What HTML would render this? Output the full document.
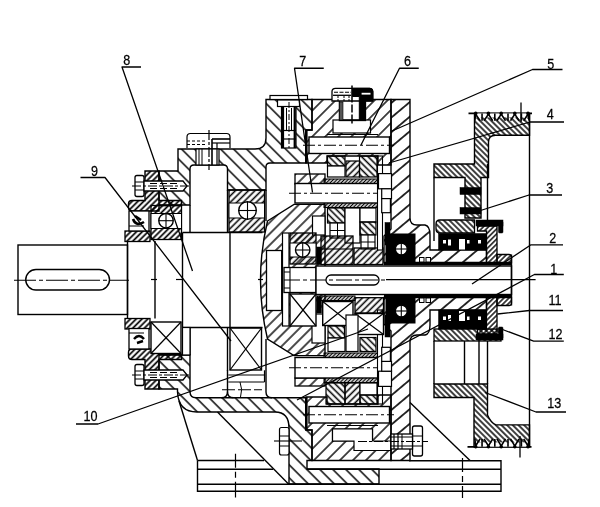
<!DOCTYPE html>
<html><head><meta charset="utf-8"><title>Diagram</title><style>html,body{margin:0;padding:0;background:#fff;overflow:hidden}svg{display:block;filter:grayscale(1)}text{font-family:"Liberation Sans",sans-serif}</style></head><body>
<svg width="600" height="507" viewBox="0 0 600 507">
<defs>
<pattern id="hH" width="9.2" height="9.2" patternUnits="userSpaceOnUse" patternTransform="rotate(-45)"><line x1="4.6" y1="-1" x2="4.6" y2="10.2" stroke="#000" stroke-width="1.4"/></pattern>
<pattern id="hR" width="9.2" height="9.2" patternUnits="userSpaceOnUse" patternTransform="rotate(45)"><line x1="4.6" y1="-1" x2="4.6" y2="10.2" stroke="#000" stroke-width="1.4"/></pattern>
<pattern id="hE" width="11.2" height="11.2" patternUnits="userSpaceOnUse" patternTransform="rotate(50)"><line x1="5.6" y1="-1" x2="5.6" y2="12.2" stroke="#000" stroke-width="1.6"/></pattern>
<pattern id="hC" width="8.0" height="8.0" patternUnits="userSpaceOnUse" patternTransform="rotate(45)"><line x1="4.0" y1="-1" x2="4.0" y2="9.0" stroke="#000" stroke-width="1.4"/></pattern>
<pattern id="hP" width="4.0" height="4.0" patternUnits="userSpaceOnUse" patternTransform="rotate(-45)"><line x1="2.0" y1="-1" x2="2.0" y2="5.0" stroke="#000" stroke-width="1.5"/></pattern>
<pattern id="hK" width="4.1" height="4.1" patternUnits="userSpaceOnUse" patternTransform="rotate(45)"><line x1="2.05" y1="-1" x2="2.05" y2="5.1" stroke="#000" stroke-width="1.7"/></pattern>
<pattern id="hS" width="3.6" height="3.6" patternUnits="userSpaceOnUse" patternTransform="rotate(45)"><line x1="1.8" y1="-1" x2="1.8" y2="4.6" stroke="#000" stroke-width="1.4"/></pattern>
<pattern id="hD" width="2.6" height="2.6" patternUnits="userSpaceOnUse" patternTransform="rotate(45)"><line x1="1.3" y1="-1" x2="1.3" y2="3.6" stroke="#000" stroke-width="1.3"/></pattern>
<pattern id="hT" width="3.4" height="3.4" patternUnits="userSpaceOnUse" patternTransform="rotate(-45)"><line x1="1.7" y1="-1" x2="1.7" y2="4.4" stroke="#000" stroke-width="1.2"/></pattern>
<pattern id="hG" width="4.6" height="4.6" patternUnits="userSpaceOnUse" patternTransform="rotate(45)"><line x1="2.3" y1="-1" x2="2.3" y2="5.6" stroke="#000" stroke-width="1.55"/></pattern>
<pattern id="hGb" width="4.6" height="4.6" patternUnits="userSpaceOnUse" patternTransform="rotate(-45)"><line x1="2.3" y1="-1" x2="2.3" y2="5.6" stroke="#000" stroke-width="1.55"/></pattern>
</defs>
<rect width="600" height="507" fill="#fff"/>
<path d="M197.5,460.5 L264,460.5 M409,460.8 L501,460.8 L501,491.2 L197.5,491.2 L197.5,460.5" fill="none" stroke="#000" stroke-width="1.4" />
<line x1="197.5" y1="469.3" x2="273" y2="469.3" stroke="#000" stroke-width="1.4" />
<line x1="197.5" y1="484.3" x2="501" y2="484.3" stroke="#000" stroke-width="1.4" />
<line x1="307" y1="469.3" x2="501" y2="469.3" stroke="#000" stroke-width="1.4" />
<line x1="235.5" y1="453.8" x2="235.5" y2="497.5" stroke="#000" stroke-width="1.2" stroke-dasharray="14 4 6 4 17"/>
<line x1="462.5" y1="458" x2="462.5" y2="498" stroke="#000" stroke-width="1.2" stroke-dasharray="14 4 6 4 17"/>
<line x1="179" y1="401" x2="197.5" y2="460.5" stroke="#000" stroke-width="1.4" />
<line x1="217.5" y1="412" x2="288.75" y2="484.3" stroke="#000" stroke-width="1.4" />
<line x1="410" y1="402.5" x2="470" y2="460.5" stroke="#000" stroke-width="1.4" />
<path d="M159,171 L178,171 L178,149 L255,149 Q266,149 266,138 L266,99.5 L312,99.5 L312,130 L306,130 L306,163 L270,163 Q266,163 266,167 L266,190 L227.5,190 L227.5,169 Q227.5,165 223.5,165 L194,165 Q190,165 190,169 L190,205 L159,205 Z" fill="url(#hH)" stroke="#000" stroke-width="1.4" />
<path d="M159,355 L190,355 L190,391.5 Q190,397.7 196,397.7 L306,397.7 L306,430 L312,430 L312,460.5 L307,460.5 L307,469 L379,469 L379,484 L289,484 L289,428 Q289,412 275,412 L197,412 Q178.5,412 177.5,392 L177.5,389 L159,389 Z" fill="url(#hH)" stroke="#000" stroke-width="1.4" />
<line x1="306.3" y1="130" x2="306.3" y2="163" stroke="#000" stroke-width="2.6" />
<line x1="306.3" y1="397" x2="306.3" y2="430" stroke="#000" stroke-width="2.6" />
<rect x="270" y="95.5" width="37.5" height="4.0" rx="0" fill="#fff" stroke="#000" stroke-width="1.2" />
<rect x="281.5" y="106" width="14.5" height="42" rx="0" fill="#fff" stroke="#000" stroke-width="1.2" />
<rect x="277.5" y="100" width="22.0" height="6.5" rx="0" fill="#fff" stroke="#000" stroke-width="1.2" />
<line x1="283" y1="106" x2="283" y2="148" stroke="#000" stroke-width="2.2" />
<line x1="294.7" y1="106" x2="294.7" y2="148" stroke="#000" stroke-width="2.2" />
<line x1="286.5" y1="108" x2="286.5" y2="130" stroke="#000" stroke-width="1.0" />
<line x1="291.5" y1="108" x2="291.5" y2="130" stroke="#000" stroke-width="1.0" />
<line x1="281.5" y1="130.5" x2="296" y2="130.5" stroke="#000" stroke-width="1.2" />
<line x1="281.5" y1="139" x2="296" y2="139" stroke="#000" stroke-width="1.2" />
<line x1="289" y1="102" x2="289" y2="148" stroke="#000" stroke-width="1.0" stroke-dasharray="6 2 2 2"/>
<rect x="196" y="149" width="23" height="16" rx="0" fill="#fff" stroke="#000" stroke-width="1.2" />
<path d="M187,148 L187,137 Q187,133.5 190.5,133.5 L226.5,133.5 Q230,133.5 230,137 L230,148" fill="#fff" stroke="#000" stroke-width="1.2" />
<line x1="187" y1="141" x2="207" y2="141" stroke="#000" stroke-width="1.0" stroke-dasharray="3 2"/>
<line x1="187" y1="144.5" x2="207" y2="144.5" stroke="#000" stroke-width="1.0" stroke-dasharray="3 2"/>
<line x1="212" y1="139" x2="230" y2="139" stroke="#000" stroke-width="1.6" />
<line x1="212" y1="143" x2="230" y2="143" stroke="#000" stroke-width="1.2" />
<line x1="212" y1="139" x2="212" y2="165" stroke="#000" stroke-width="1.6" />
<line x1="217" y1="143" x2="217" y2="165" stroke="#000" stroke-width="1.2" />
<line x1="199" y1="149" x2="199" y2="165" stroke="#000" stroke-width="1.0" />
<line x1="202" y1="149" x2="202" y2="165" stroke="#000" stroke-width="1.0" />
<line x1="209" y1="130" x2="209" y2="170" stroke="#000" stroke-width="1.2" stroke-dasharray="10 2 3 2"/>
<rect x="279.5" y="427.5" width="9.5" height="27.5" rx="2" fill="#fff" stroke="#000" stroke-width="1.2" />
<line x1="279.5" y1="436" x2="289" y2="436" stroke="#000" stroke-width="1.0" />
<line x1="279.5" y1="446" x2="289" y2="446" stroke="#000" stroke-width="1.0" />
<line x1="274" y1="441" x2="302" y2="441" stroke="#000" stroke-width="1.1" />
<path d="M145,171 L159,171 L159,200.5 L181.5,200.5 L181.5,205.5 L159,205.5 L159,211 L132,211 Q128.5,211 128.5,207.5 L128.5,204 Q128.5,200.5 132,200.5 L145,200.5 Z" fill="url(#hK)" stroke="#000" stroke-width="1.4" />
<path d="M145,389 L159,389 L159,359.5 L181.5,359.5 L181.5,354.5 L159,354.5 L159,349 L132,349 Q128.5,349 128.5,352.5 L128.5,356 Q128.5,359.5 132,359.5 L145,359.5 Z" fill="url(#hK)" stroke="#000" stroke-width="1.4" />
<rect x="135" y="175.5" width="9" height="21.0" rx="2" fill="#fff" stroke="#000" stroke-width="1.3" />
<line x1="135" y1="182" x2="144" y2="182" stroke="#000" stroke-width="1.0" />
<line x1="135" y1="190" x2="144" y2="190" stroke="#000" stroke-width="1.0" />
<path d="M144,181 L183,181 L187,186 L183,191 L144,191 Z" fill="#fff" stroke="#000" stroke-width="1.3" />
<line x1="150" y1="183.5" x2="180" y2="183.5" stroke="#000" stroke-width="1.0" stroke-dasharray="7 3"/>
<line x1="150" y1="188.5" x2="180" y2="188.5" stroke="#000" stroke-width="1.0" stroke-dasharray="7 3"/>
<line x1="132" y1="186" x2="190" y2="186" stroke="#000" stroke-width="1.0" stroke-dasharray="9 2 3 2"/>
<rect x="135" y="364.5" width="9" height="21.0" rx="2" fill="#fff" stroke="#000" stroke-width="1.3" />
<line x1="135" y1="371" x2="144" y2="371" stroke="#000" stroke-width="1.0" />
<line x1="135" y1="379" x2="144" y2="379" stroke="#000" stroke-width="1.0" />
<path d="M144,370 L183,370 L187,375 L183,380 L144,380 Z" fill="#fff" stroke="#000" stroke-width="1.3" />
<line x1="150" y1="372.5" x2="180" y2="372.5" stroke="#000" stroke-width="1.0" stroke-dasharray="7 3"/>
<line x1="150" y1="377.5" x2="180" y2="377.5" stroke="#000" stroke-width="1.0" stroke-dasharray="7 3"/>
<line x1="132" y1="375" x2="190" y2="375" stroke="#000" stroke-width="1.0" stroke-dasharray="9 2 3 2"/>
<rect x="125" y="231" width="25" height="10.5" rx="0" fill="url(#hK)" stroke="#000" stroke-width="1.3" />
<rect x="125" y="318.5" width="25" height="10.5" rx="0" fill="url(#hK)" stroke="#000" stroke-width="1.3" />
<rect x="129" y="211" width="20" height="20" rx="0" fill="#fff" stroke="#000" stroke-width="1.3" />
<rect x="129" y="328.5" width="20" height="20.5" rx="0" fill="#fff" stroke="#000" stroke-width="1.3" />
<path d="M133,219 q3,8 11,3 M135,216 l6,4" fill="none" stroke="#000" stroke-width="2.6" />
<path d="M134,339 q5,-6 10,0 M137,343 l6,-2" fill="none" stroke="#000" stroke-width="2.4" />
<line x1="129" y1="226" x2="144" y2="226" stroke="#000" stroke-width="1.0" />
<line x1="129" y1="333" x2="144" y2="333" stroke="#000" stroke-width="1.0" />
<rect x="151" y="205.5" width="30.5" height="34.0" rx="0" fill="url(#hK)" stroke="#000" stroke-width="1.3" />
<rect x="151" y="213.5" width="30.5" height="15.0" rx="0" fill="#fff" stroke="#000" stroke-width="1.0" />
<circle cx="166" cy="220.7" r="7.2" fill="#fff" stroke="#000" stroke-width="1.4"/>
<line x1="158.8" y1="220.7" x2="173.2" y2="220.7" stroke="#000" stroke-width="1.1" />
<line x1="166" y1="213.5" x2="166" y2="227.89999999999998" stroke="#000" stroke-width="1.1" />
<rect x="151" y="322" width="30" height="31.5" rx="0" fill="#fff" stroke="#000" stroke-width="1.4" />
<line x1="151" y1="322" x2="181" y2="353.5" stroke="#000" stroke-width="1.2" />
<line x1="151" y1="353.5" x2="181" y2="322" stroke="#000" stroke-width="1.2" />
<rect x="229" y="190" width="35.5" height="42" rx="0" fill="url(#hG)" stroke="#000" stroke-width="1.3" />
<rect x="229" y="203" width="35.5" height="15" rx="0" fill="#fff" stroke="#000" stroke-width="1.0" />
<circle cx="247.5" cy="210.5" r="8.8" fill="#fff" stroke="#000" stroke-width="1.4"/>
<line x1="238.7" y1="210.5" x2="256.3" y2="210.5" stroke="#000" stroke-width="1.1" />
<line x1="247.5" y1="201.7" x2="247.5" y2="219.3" stroke="#000" stroke-width="1.1" />
<rect x="230" y="328" width="31.5" height="42" rx="0" fill="#fff" stroke="#000" stroke-width="1.4" />
<line x1="230" y1="328" x2="261.5" y2="370" stroke="#000" stroke-width="1.2" />
<line x1="230" y1="370" x2="261.5" y2="328" stroke="#000" stroke-width="1.2" />
<rect x="18" y="245" width="109.5" height="69.5" rx="0" fill="#fff" stroke="#000" stroke-width="1.4" />
<rect x="25.75" y="269.5" width="83.75" height="20.5" rx="10.2" fill="none" stroke="#000" stroke-width="1.4" />
<line x1="14" y1="280.3" x2="129" y2="280.3" stroke="#000" stroke-width="1.1" stroke-dasharray="22 3 4 3"/>
<line x1="127.5" y1="241" x2="127.5" y2="318.5" stroke="#000" stroke-width="1.4" />
<line x1="155" y1="241" x2="155" y2="318.5" stroke="#000" stroke-width="1.4" />
<line x1="182.5" y1="232.5" x2="182.5" y2="327.5" stroke="#000" stroke-width="1.4" />
<line x1="182.5" y1="232.5" x2="262.5" y2="232.5" stroke="#000" stroke-width="1.4" />
<line x1="182.5" y1="327.5" x2="262.5" y2="327.5" stroke="#000" stroke-width="1.4" />
<line x1="230" y1="232.5" x2="230" y2="328" stroke="#000" stroke-width="1.4" />
<line x1="151" y1="279.5" x2="157" y2="279.5" stroke="#000" stroke-width="1.2" />
<line x1="176" y1="279.5" x2="182.5" y2="279.5" stroke="#000" stroke-width="1.2" />
<line x1="258" y1="279.5" x2="263" y2="279.5" stroke="#000" stroke-width="1.2" />
<line x1="190" y1="205" x2="190" y2="232.5" stroke="#000" stroke-width="1.4" />
<line x1="227.5" y1="190" x2="227.5" y2="232.5" stroke="#000" stroke-width="1.4" />
<line x1="190" y1="327.5" x2="190" y2="355" stroke="#000" stroke-width="1.4" />
<line x1="227.5" y1="327.5" x2="227.5" y2="371" stroke="#000" stroke-width="1.4" />
<rect x="182.5" y="327.5" width="7.5" height="27.5" rx="0" fill="#fff" stroke="#000" stroke-width="1.2" />
<path d="M227.5,370.3 L227.5,391.5 Q227.5,397.7 233.5,397.7" fill="none" stroke="#000" stroke-width="1.4" />
<path d="M227.5,391.5 Q227.5,397.7 221.5,397.7" fill="none" stroke="#000" stroke-width="1.4" />
<path d="M266,339 L266,392 Q266,397.7 272,397.7" fill="none" stroke="#000" stroke-width="1.4" />
<line x1="266" y1="190" x2="266" y2="221" stroke="#000" stroke-width="1.4" />
<line x1="228.3" y1="375" x2="264.5" y2="375" stroke="#000" stroke-width="1.1" />
<line x1="228.3" y1="382" x2="264.5" y2="382" stroke="#000" stroke-width="1.2" />
<line x1="264.5" y1="370.3" x2="264.5" y2="382" stroke="#000" stroke-width="1.2" />
<line x1="222" y1="389.7" x2="262" y2="389.7" stroke="#000" stroke-width="1.1" stroke-dasharray="13 3"/>
<path d="M240,382 q3,7.5 0.5,15" fill="none" stroke="#000" stroke-width="1.0" />
<path d="M267.5,221 L294,204.4 L325,204.4 L325,355.6 L294,355.6 L267.5,339 Q253.5,280 267.5,221 Z" fill="url(#hC)" stroke="#000" stroke-width="1.4" />
<rect x="295" y="174" width="30" height="10" rx="0" fill="url(#hC)" stroke="#000" stroke-width="1.3" />
<rect x="295" y="378" width="30" height="8" rx="0" fill="url(#hC)" stroke="#000" stroke-width="1.3" />
<rect x="266.5" y="250.5" width="15.199999999999989" height="60.0" rx="0" fill="#fff" stroke="#000" stroke-width="1.3" />
<rect x="282.5" y="233" width="6.5" height="93" rx="0" fill="#fff" stroke="#000" stroke-width="1.2" />
<rect x="312.5" y="216" width="12.5" height="19" rx="0" fill="#fff" stroke="#000" stroke-width="1.2" />
<rect x="312" y="314" width="13" height="29" rx="0" fill="#fff" stroke="#000" stroke-width="1.2" />
<rect x="290" y="233" width="26" height="31" rx="0" fill="url(#hG)" stroke="#000" stroke-width="1.3" />
<rect x="290" y="243" width="26" height="14" rx="0" fill="#fff" stroke="#000" stroke-width="1.0" />
<circle cx="302.7" cy="250" r="7.2" fill="#fff" stroke="#000" stroke-width="1.4"/>
<line x1="295.5" y1="250" x2="309.9" y2="250" stroke="#000" stroke-width="1.1" />
<line x1="302.7" y1="242.8" x2="302.7" y2="257.2" stroke="#000" stroke-width="1.1" />
<rect x="284" y="267.5" width="32" height="25.0" rx="0" fill="#fff" stroke="#000" stroke-width="1.3" />
<line x1="290" y1="267.5" x2="290" y2="292.5" stroke="#000" stroke-width="1.1" />
<line x1="284" y1="272" x2="290" y2="272" stroke="#000" stroke-width="1.0" />
<line x1="284" y1="288" x2="290" y2="288" stroke="#000" stroke-width="1.0" />
<rect x="290" y="294" width="26" height="32" rx="0" fill="#fff" stroke="#000" stroke-width="1.4" />
<line x1="290" y1="294" x2="316" y2="326" stroke="#000" stroke-width="1.2" />
<line x1="290" y1="326" x2="316" y2="294" stroke="#000" stroke-width="1.2" />
<rect x="324" y="179.0" width="53.5" height="28.5" rx="0" fill="url(#hD)" stroke="#000" stroke-width="1.0" />
<rect x="295" y="183.5" width="83.5" height="19.5" rx="0" fill="#fff" stroke="#000" stroke-width="1.4" />
<line x1="289" y1="193.25" x2="384" y2="193.25" stroke="#000" stroke-width="1.2" stroke-dasharray="12 3 3 3"/>
<rect x="324" y="353.0" width="53.5" height="29.5" rx="0" fill="url(#hD)" stroke="#000" stroke-width="1.0" />
<rect x="295" y="357.5" width="83.5" height="20.5" rx="0" fill="#fff" stroke="#000" stroke-width="1.4" />
<line x1="289" y1="367.75" x2="384" y2="367.75" stroke="#000" stroke-width="1.2" stroke-dasharray="12 3 3 3"/>
<rect x="327.5" y="156" width="17.5" height="10" rx="0" fill="url(#hGb)" stroke="#000" stroke-width="1.2" />
<rect x="327.5" y="166" width="17.5" height="11" rx="0" fill="#fff" stroke="#000" stroke-width="1.2" />
<rect x="346" y="161" width="13.5" height="16" rx="0" fill="url(#hG)" stroke="#000" stroke-width="1.2" />
<rect x="359.5" y="156" width="17.5" height="21" rx="0" fill="url(#hGb)" stroke="#000" stroke-width="1.2" />
<rect x="327.5" y="208" width="17.5" height="15" rx="0" fill="url(#hGb)" stroke="#000" stroke-width="1.2" />
<rect x="330" y="223" width="15" height="15" rx="0" fill="#fff" stroke="#000" stroke-width="1.2" />
<line x1="337.5" y1="223" x2="337.5" y2="238" stroke="#000" stroke-width="1.0" />
<line x1="330" y1="230.5" x2="345" y2="230.5" stroke="#000" stroke-width="1.0" />
<rect x="345" y="208" width="15" height="35" rx="0" fill="#fff" stroke="#000" stroke-width="1.2" />
<rect x="360" y="208" width="16" height="14" rx="0" fill="#fff" stroke="#000" stroke-width="1.2" />
<rect x="360" y="222" width="16" height="13" rx="0" fill="url(#hGb)" stroke="#000" stroke-width="1.2" />
<rect x="361" y="235" width="14" height="14" rx="0" fill="#fff" stroke="#000" stroke-width="1.2" />
<line x1="368" y1="235" x2="368" y2="249" stroke="#000" stroke-width="1.0" />
<line x1="361" y1="242" x2="375" y2="242" stroke="#000" stroke-width="1.0" />
<rect x="321" y="236" width="32" height="28.5" rx="0" fill="url(#hG)" stroke="#000" stroke-width="1.3" />
<rect x="354" y="248" width="29" height="16.5" rx="0" fill="url(#hG)" stroke="#000" stroke-width="1.3" />
<line x1="321" y1="249" x2="353" y2="249" stroke="#000" stroke-width="1.1" />
<rect x="316.5" y="247" width="4.5" height="17.5" rx="0" fill="#000" stroke="#000" stroke-width="0.5" />
<rect x="316.8" y="297" width="4.699999999999989" height="16" rx="0" fill="#000" stroke="#000" stroke-width="0.5" />
<rect x="377.5" y="156" width="5.0" height="94" rx="0" fill="#fff" stroke="#000" stroke-width="1.1" />
<rect x="377.5" y="310" width="5.0" height="94" rx="0" fill="#fff" stroke="#000" stroke-width="1.1" />
<rect x="317.5" y="296" width="37.5" height="4.5" rx="0" fill="url(#hD)" stroke="#000" stroke-width="1.0" />
<rect x="322.7" y="301.5" width="30.30000000000001" height="24.0" rx="0" fill="#fff" stroke="#000" stroke-width="1.4" />
<line x1="322.7" y1="301.5" x2="353" y2="325.5" stroke="#000" stroke-width="1.2" />
<line x1="322.7" y1="325.5" x2="353" y2="301.5" stroke="#000" stroke-width="1.2" />
<rect x="355" y="297.7" width="28.5" height="15.300000000000011" rx="0" fill="url(#hG)" stroke="#000" stroke-width="1.3" />
<rect x="355" y="313.5" width="28.5" height="21.0" rx="0" fill="#fff" stroke="#000" stroke-width="1.4" />
<line x1="355" y1="313.5" x2="383.5" y2="334.5" stroke="#000" stroke-width="1.2" />
<line x1="355" y1="334.5" x2="383.5" y2="313.5" stroke="#000" stroke-width="1.2" />
<rect x="346" y="315" width="12" height="36.5" rx="0" fill="#fff" stroke="#000" stroke-width="1.2" />
<rect x="328" y="326" width="16.5" height="12" rx="0" fill="url(#hGb)" stroke="#000" stroke-width="1.2" />
<rect x="328" y="338" width="17" height="13.5" rx="0" fill="#fff" stroke="#000" stroke-width="1.2" />
<rect x="360" y="337.5" width="16" height="14.0" rx="0" fill="url(#hGb)" stroke="#000" stroke-width="1.2" />
<rect x="326" y="383" width="19" height="21" rx="0" fill="url(#hGb)" stroke="#000" stroke-width="1.2" />
<rect x="345" y="383" width="15" height="21" rx="0" fill="url(#hG)" stroke="#000" stroke-width="1.2" />
<rect x="360" y="383" width="17" height="12" rx="0" fill="#fff" stroke="#000" stroke-width="1.2" />
<rect x="360" y="395" width="17" height="9" rx="0" fill="url(#hGb)" stroke="#000" stroke-width="1.2" />
<rect x="316" y="266" width="195.5" height="28.5" rx="0" fill="#fff" stroke="#000" stroke-width="1.4" />
<rect x="326" y="275" width="53" height="10" rx="5" fill="none" stroke="#000" stroke-width="1.3" />
<line x1="284" y1="280" x2="386" y2="280" stroke="#000" stroke-width="1.2" stroke-dasharray="16 3 4 3"/>
<line x1="386" y1="279.7" x2="535.6" y2="279.7" stroke="#000" stroke-width="1.3" />
<path d="M312,99.5 L391,99.5 L391,165 L378,165 L378,156 L327,156 L327,163 L306,163 L306,130 L312,130 Z" fill="url(#hR)" stroke="#000" stroke-width="1.4" />
<path d="M312,460.5 L391,460.5 L391,395 L378,395 L378,404 L327,404 L327,397 L306,397 L306,430 L312,430 Z" fill="url(#hR)" stroke="#000" stroke-width="1.4" />
<rect x="333" y="120" width="37.5" height="13" rx="0" fill="#fff" stroke="#000" stroke-width="1.2" />
<rect x="332.5" y="429" width="40.0" height="12" rx="0" fill="#fff" stroke="#000" stroke-width="1.2" />
<path d="M332.5,429 L372.5,429 L372.5,441 L391,441 L391,450.5 L354,450.5 L354,441 L332.5,441 Z" fill="#fff" stroke="#000" stroke-width="1.2" />
<rect x="339.4" y="100" width="26.100000000000023" height="20.5" rx="0" fill="#fff" stroke="#000" stroke-width="1.3" />
<path d="M332,101 L332,91.5 Q332,88.3 335.5,88.3 L369.5,88.3 Q372.8,88.3 372.8,91.5 L372.8,101 Z" fill="#fff" stroke="#000" stroke-width="1.3" />
<path d="M352.4,88.3 L369.5,88.3 Q372.8,88.3 372.8,91.5 L372.8,101 L365.4,101 L365.4,120 L359.3,120 L359.3,96.5 L352.4,96.5 Z" fill="#000" stroke="#000" stroke-width="1.0" />
<rect x="361.6" y="92.8" width="8.899999999999977" height="1.7999999999999972" rx="0" fill="#fff" stroke="#000" stroke-width="0" />
<line x1="334" y1="92.2" x2="351" y2="92.2" stroke="#000" stroke-width="1.1" stroke-dasharray="4 1.5"/>
<line x1="333" y1="95.3" x2="351" y2="95.3" stroke="#000" stroke-width="1.3" />
<line x1="338" y1="96" x2="338" y2="101" stroke="#000" stroke-width="1.0" stroke-dasharray="2 1"/>
<line x1="344" y1="96" x2="344" y2="101" stroke="#000" stroke-width="1.0" stroke-dasharray="2 1"/>
<line x1="349" y1="96" x2="349" y2="101" stroke="#000" stroke-width="1.0" stroke-dasharray="2 1"/>
<rect x="339.4" y="102" width="3.6000000000000227" height="18" rx="0" fill="#555" stroke="#000" stroke-width="0.6" />
<line x1="343" y1="120" x2="362" y2="120" stroke="#000" stroke-width="1.6" />
<line x1="352" y1="85.6" x2="352" y2="123.6" stroke="#000" stroke-width="1.5" stroke-dasharray="17 2 8 2 9"/>
<rect x="309" y="137" width="80.5" height="16.5" rx="0" fill="#fff" stroke="#000" stroke-width="1.4" />
<line x1="303" y1="145.25" x2="394" y2="145.25" stroke="#000" stroke-width="1.2" stroke-dasharray="12 3 3 3"/>
<rect x="309" y="406.5" width="80.5" height="16.5" rx="0" fill="#fff" stroke="#000" stroke-width="1.4" />
<line x1="303" y1="414.75" x2="394" y2="414.75" stroke="#000" stroke-width="1.2" stroke-dasharray="12 3 3 3"/>
<line x1="327" y1="134.5" x2="378" y2="134.5" stroke="#000" stroke-width="1.1" />
<line x1="327" y1="425.5" x2="378" y2="425.5" stroke="#000" stroke-width="1.1" />
<path d="M391,99.5 L410,99.5 L410,218 Q410,225 417,225 L425,225 Q430,226 430,235 L430,250 L486.5,250 L486.5,262.5 L384,262.5 L384,236 L391,229 Z" fill="url(#hE)" stroke="#000" stroke-width="1.4" />
<path d="M391,460.5 L410,460.5 L410,342 Q410,335 417,335 L425,335 Q430,334 430,325 L430,310 L486.5,310 L486.5,297.5 L384,297.5 L384,324 L391,331 Z" fill="url(#hE)" stroke="#000" stroke-width="1.4" />
<rect x="378.5" y="173.6" width="13.0" height="15.200000000000017" rx="0" fill="#fff" stroke="#000" stroke-width="1.2" />
<rect x="378.5" y="371.2" width="13.0" height="15.199999999999989" rx="0" fill="#fff" stroke="#000" stroke-width="1.2" />
<rect x="381.7" y="188.8" width="9.800000000000011" height="9.799999999999983" rx="0" fill="#fff" stroke="#000" stroke-width="1.2" />
<rect x="381.7" y="361.4" width="9.800000000000011" height="9.800000000000011" rx="0" fill="#fff" stroke="#000" stroke-width="1.2" />
<rect x="381.7" y="198.6" width="8.699999999999989" height="14.099999999999994" rx="0" fill="#fff" stroke="#000" stroke-width="1.2" />
<rect x="381.7" y="347.3" width="8.699999999999989" height="14.099999999999966" rx="0" fill="#fff" stroke="#000" stroke-width="1.2" />
<rect x="386" y="234" width="29" height="30" rx="0" fill="#000" stroke="#000" stroke-width="1.0" />
<circle cx="401.3" cy="249" r="6" fill="#fff" stroke="#000" stroke-width="1.4"/>
<line x1="395.3" y1="249" x2="407.3" y2="249" stroke="#000" stroke-width="1.1" />
<line x1="401.3" y1="243" x2="401.3" y2="255" stroke="#000" stroke-width="1.1" />
<rect x="386" y="296" width="29" height="27" rx="0" fill="#000" stroke="#000" stroke-width="1.0" />
<circle cx="401.3" cy="311" r="6" fill="#fff" stroke="#000" stroke-width="1.4"/>
<line x1="395.3" y1="311" x2="407.3" y2="311" stroke="#000" stroke-width="1.1" />
<line x1="401.3" y1="305" x2="401.3" y2="317" stroke="#000" stroke-width="1.1" />
<rect x="385" y="222.5" width="5" height="22.5" rx="0" fill="#000" stroke="#000" stroke-width="0.5" />
<rect x="385" y="315" width="5" height="22" rx="0" fill="#000" stroke="#000" stroke-width="0.5" />
<rect x="419.5" y="257.5" width="4.5" height="4.5" rx="0" fill="#fff" stroke="#000" stroke-width="1.0" />
<rect x="426" y="257.5" width="4.5" height="4.5" rx="0" fill="#fff" stroke="#000" stroke-width="1.0" />
<rect x="419.5" y="298" width="4.5" height="4.5" rx="0" fill="#fff" stroke="#000" stroke-width="1.0" />
<rect x="426" y="298" width="4.5" height="4.5" rx="0" fill="#fff" stroke="#000" stroke-width="1.0" />
<line x1="384" y1="263.7" x2="511.5" y2="263.7" stroke="#000" stroke-width="3.2" />
<line x1="384" y1="296.2" x2="511.5" y2="296.2" stroke="#000" stroke-width="3.2" />
<path d="M497,254.5 L509,254.5 Q511.5,254.5 511.5,257 L511.5,262.5 L497,262.5 Z" fill="url(#hS)" stroke="#000" stroke-width="1.3" />
<path d="M497,305.5 L509,305.5 Q511.5,305.5 511.5,303 L511.5,297.5 L497,297.5 Z" fill="url(#hS)" stroke="#000" stroke-width="1.3" />
<line x1="511.5" y1="254.5" x2="511.5" y2="305.5" stroke="#000" stroke-width="1.4" />
<rect x="412.5" y="426" width="10.0" height="30" rx="2" fill="#fff" stroke="#000" stroke-width="1.3" />
<line x1="412.5" y1="436" x2="422.5" y2="436" stroke="#000" stroke-width="1.0" />
<line x1="412.5" y1="446" x2="422.5" y2="446" stroke="#000" stroke-width="1.0" />
<rect x="391" y="434" width="21.5" height="15" rx="0" fill="#fff" stroke="#000" stroke-width="1.3" />
<line x1="391" y1="437" x2="412.5" y2="437" stroke="#000" stroke-width="1.0" />
<line x1="391" y1="446" x2="412.5" y2="446" stroke="#000" stroke-width="1.0" />
<line x1="394" y1="434" x2="394" y2="449" stroke="#000" stroke-width="1.2" />
<line x1="398" y1="434" x2="398" y2="449" stroke="#000" stroke-width="1.2" />
<line x1="402" y1="434" x2="402" y2="449" stroke="#000" stroke-width="1.0" />
<line x1="358" y1="441.5" x2="428" y2="441.5" stroke="#000" stroke-width="1.1" stroke-dasharray="9 2 3 2"/>
<path d="M474.5,113.5 L529.5,113.5 L529.5,135.2 L495.5,135.2 Q488.5,135.2 488.5,142.2 L488.5,177.5 L481,177.5 L481,218 L465,218 L465,177.5 L434,177.5 L434,164 L474.5,164 Z" fill="url(#hP)" stroke="#000" stroke-width="1.4" />
<path d="M474,446.7 L529.5,446.7 L529.5,424.9 L496,424.9 Q491,423 487.5,415 L487.5,384 L434,384 L434,397.5 L474,397.5 Z" fill="url(#hP)" stroke="#000" stroke-width="1.4" />
<line x1="529.5" y1="113.5" x2="529.5" y2="446.5" stroke="#000" stroke-width="1.4" />
<line x1="468.5" y1="113.4" x2="532" y2="113.4" stroke="#000" stroke-width="1.6" />
<line x1="467.5" y1="446.9" x2="531.5" y2="446.9" stroke="#000" stroke-width="1.6" />
<rect x="475.2" y="113.4" width="53.599999999999966" height="4.015000000000001" rx="0" fill="#fff" stroke="#000" stroke-width="0" />
<circle cx="475.7" cy="113.4" r="1.8" fill="#000"/>
<path d="M474.8,120.7 L475.7,114.13000000000001 L480.0,120.7" fill="none" stroke="#000" stroke-width="1.6" />
<circle cx="488.4" cy="113.4" r="1.8" fill="#000"/>
<path d="M484.09999999999997,120.7 L488.4,114.13000000000001 L492.7,120.7" fill="none" stroke="#000" stroke-width="1.6" />
<circle cx="501.2" cy="113.4" r="1.8" fill="#000"/>
<path d="M496.9,120.7 L501.2,114.13000000000001 L505.5,120.7" fill="none" stroke="#000" stroke-width="1.6" />
<circle cx="514.8" cy="113.4" r="1.8" fill="#000"/>
<path d="M510.49999999999994,120.7 L514.8,114.13000000000001 L519.0999999999999,120.7" fill="none" stroke="#000" stroke-width="1.6" />
<circle cx="528" cy="113.4" r="1.8" fill="#000"/>
<path d="M523.7,120.7 L528,114.13000000000001 L529.2,120.7" fill="none" stroke="#000" stroke-width="1.6" />
<line x1="482.04999999999995" y1="113.4" x2="482.04999999999995" y2="120.7" stroke="#000" stroke-width="1.6" />
<line x1="494.79999999999995" y1="113.4" x2="494.79999999999995" y2="120.7" stroke="#000" stroke-width="1.6" />
<line x1="508.0" y1="113.4" x2="508.0" y2="120.7" stroke="#000" stroke-width="1.6" />
<line x1="521.4" y1="113.4" x2="521.4" y2="120.7" stroke="#000" stroke-width="1.6" />
<rect x="475.2" y="442.40999999999997" width="53.599999999999966" height="4.2900000000000205" rx="0" fill="#fff" stroke="#000" stroke-width="0" />
<circle cx="475.7" cy="446.7" r="1.8" fill="#000"/>
<path d="M474.8,438.9 L475.7,445.92 L480.0,438.9" fill="none" stroke="#000" stroke-width="1.6" />
<circle cx="488.4" cy="446.7" r="1.8" fill="#000"/>
<path d="M484.09999999999997,438.9 L488.4,445.92 L492.7,438.9" fill="none" stroke="#000" stroke-width="1.6" />
<circle cx="501.2" cy="446.7" r="1.8" fill="#000"/>
<path d="M496.9,438.9 L501.2,445.92 L505.5,438.9" fill="none" stroke="#000" stroke-width="1.6" />
<circle cx="514.8" cy="446.7" r="1.8" fill="#000"/>
<path d="M510.49999999999994,438.9 L514.8,445.92 L519.0999999999999,438.9" fill="none" stroke="#000" stroke-width="1.6" />
<circle cx="528" cy="446.7" r="1.8" fill="#000"/>
<path d="M523.7,438.9 L528,445.92 L529.2,438.9" fill="none" stroke="#000" stroke-width="1.6" />
<line x1="482.04999999999995" y1="446.7" x2="482.04999999999995" y2="438.9" stroke="#000" stroke-width="1.6" />
<line x1="494.79999999999995" y1="446.7" x2="494.79999999999995" y2="438.9" stroke="#000" stroke-width="1.6" />
<line x1="508.0" y1="446.7" x2="508.0" y2="438.9" stroke="#000" stroke-width="1.6" />
<line x1="521.4" y1="446.7" x2="521.4" y2="438.9" stroke="#000" stroke-width="1.6" />
<line x1="521" y1="102.5" x2="521" y2="122" stroke="#000" stroke-width="1.3" />
<line x1="520" y1="436" x2="520" y2="457.5" stroke="#000" stroke-width="1.3" />
<line x1="434" y1="177.5" x2="434" y2="241" stroke="#000" stroke-width="1.4" />
<line x1="487.5" y1="164" x2="487.5" y2="220" stroke="#000" stroke-width="1.4" />
<line x1="434" y1="341" x2="434" y2="384" stroke="#000" stroke-width="1.4" />
<line x1="464.5" y1="341" x2="464.5" y2="384" stroke="#000" stroke-width="1.4" />
<line x1="479" y1="341" x2="479" y2="384" stroke="#000" stroke-width="1.4" />
<line x1="487.5" y1="341" x2="487.5" y2="384" stroke="#000" stroke-width="1.4" />
<rect x="460" y="187.5" width="21" height="7.0" rx="0" fill="#000" stroke="#000" stroke-width="0.5" />
<rect x="460" y="207.5" width="21" height="6.5" rx="0" fill="#000" stroke="#000" stroke-width="0.5" />
<path d="M440,220 L474.5,220 L474.5,233 L440,233 Q436,233 436,229 L436,224 Q436,220 440,220 Z" fill="url(#hP)" stroke="#000" stroke-width="1.3" />
<rect x="438.5" y="233.5" width="48.0" height="16.5" rx="0" fill="#000" stroke="#000" stroke-width="0.5" />
<rect x="443" y="240" width="3" height="3.5" rx="0" fill="#fff" stroke="#000" stroke-width="0" />
<rect x="448" y="239.5" width="3" height="6.0" rx="0" fill="#fff" stroke="#000" stroke-width="0" />
<rect x="459" y="239" width="6" height="10.5" rx="0" fill="#fff" stroke="#000" stroke-width="0" />
<rect x="467" y="240" width="2.5" height="3.5" rx="0" fill="#fff" stroke="#000" stroke-width="0" />
<rect x="478" y="240" width="3" height="3.5" rx="0" fill="#fff" stroke="#000" stroke-width="0" />
<path d="M477.5,226 L497,226 L497,262.5 L486.5,262.5 L486.5,231 L477.5,231 Z" fill="url(#hS)" stroke="#000" stroke-width="1.3" />
<rect x="476" y="220" width="27" height="6" rx="0" fill="#000" stroke="#000" stroke-width="0.5" />
<rect x="498.5" y="221.5" width="4.5" height="11.5" rx="1" fill="#000" stroke="#000" stroke-width="0.5" />
<rect x="434" y="329" width="67" height="12" rx="0" fill="url(#hP)" stroke="#000" stroke-width="1.3" />
<rect x="438.5" y="310" width="48.0" height="19" rx="0" fill="#000" stroke="#000" stroke-width="0.5" />
<rect x="443" y="316.5" width="3" height="3.5" rx="0" fill="#fff" stroke="#000" stroke-width="0" />
<rect x="448" y="315" width="3" height="6" rx="0" fill="#fff" stroke="#000" stroke-width="0" />
<rect x="459" y="311" width="6" height="10" rx="0" fill="#fff" stroke="#000" stroke-width="0" />
<rect x="467" y="316.5" width="2.5" height="3.5" rx="0" fill="#fff" stroke="#000" stroke-width="0" />
<rect x="478" y="316.5" width="3" height="3.5" rx="0" fill="#fff" stroke="#000" stroke-width="0" />
<path d="M486.5,297.5 L497,297.5 L497,334 L477.5,334 L477.5,329 L486.5,329 Z" fill="url(#hS)" stroke="#000" stroke-width="1.3" />
<rect x="476" y="334" width="27" height="6" rx="0" fill="#000" stroke="#000" stroke-width="0.5" />
<rect x="498.5" y="327" width="4.5" height="11.5" rx="1" fill="#000" stroke="#000" stroke-width="0.5" />
<path d="M141,67 L122,67 L192.5,271" fill="none" stroke="#000" stroke-width="1.3" stroke-linejoin="round"/>
<text transform="translate(123.2,65.2) scale(0.84,1)" font-size="15" fill="#000" stroke="#000" stroke-width="0.25">8</text>
<path d="M80.5,177.5 L105,177.5 L231,341" fill="none" stroke="#000" stroke-width="1.3" stroke-linejoin="round"/>
<text transform="translate(91,175.7) scale(0.84,1)" font-size="15" fill="#000" stroke="#000" stroke-width="0.25">9</text>
<path d="M323.75,68.25 L294.5,68.25 L312.5,192.5" fill="none" stroke="#000" stroke-width="1.3" stroke-linejoin="round"/>
<text transform="translate(299.3,66.3) scale(0.84,1)" font-size="15" fill="#000" stroke="#000" stroke-width="0.25">7</text>
<path d="M418.75,68.25 L399.5,68.25 L361,145" fill="none" stroke="#000" stroke-width="1.3" stroke-linejoin="round"/>
<text transform="translate(404,66.3) scale(0.84,1)" font-size="15" fill="#000" stroke="#000" stroke-width="0.25">6</text>
<path d="M562.5,69.5 L532.5,69.5 L392,131" fill="none" stroke="#000" stroke-width="1.3" stroke-linejoin="round"/>
<text transform="translate(547.3,68.7) scale(0.84,1)" font-size="15" fill="#000" stroke="#000" stroke-width="0.25">5</text>
<path d="M564,122 L530,122 L389,163" fill="none" stroke="#000" stroke-width="1.3" stroke-linejoin="round"/>
<text transform="translate(546.8,119.3) scale(0.84,1)" font-size="15" fill="#000" stroke="#000" stroke-width="0.25">4</text>
<path d="M562,195 L529,195 L479,211" fill="none" stroke="#000" stroke-width="1.3" stroke-linejoin="round"/>
<text transform="translate(546.3,192.6) scale(0.84,1)" font-size="15" fill="#000" stroke="#000" stroke-width="0.25">3</text>
<path d="M563,244.8 L531,244.8 L472,284" fill="none" stroke="#000" stroke-width="1.3" stroke-linejoin="round"/>
<text transform="translate(549.3,242.8) scale(0.84,1)" font-size="15" fill="#000" stroke="#000" stroke-width="0.25">2</text>
<path d="M563.8,274.5 L534.4,274.5 L297,400" fill="none" stroke="#000" stroke-width="1.3" stroke-linejoin="round"/>
<text transform="translate(550.3,273.7) scale(0.84,1)" font-size="15" fill="#000" stroke="#000" stroke-width="0.25">1</text>
<path d="M563,310.5 L529.4,310.5 L497.5,314" fill="none" stroke="#000" stroke-width="1.3" stroke-linejoin="round"/>
<text transform="translate(548.5,304.6) scale(0.84,1)" font-size="15" fill="#000" stroke="#000" stroke-width="0.25">11</text>
<path d="M563.8,341.2 L533.6,341.2 L502.5,329.5" fill="none" stroke="#000" stroke-width="1.3" stroke-linejoin="round"/>
<text transform="translate(548.5,338.5) scale(0.84,1)" font-size="15" fill="#000" stroke="#000" stroke-width="0.25">12</text>
<path d="M566,412 L536,412 L485,392.5" fill="none" stroke="#000" stroke-width="1.3" stroke-linejoin="round"/>
<text transform="translate(547.3,408) scale(0.84,1)" font-size="15" fill="#000" stroke="#000" stroke-width="0.25">13</text>
<path d="M76,424 L98,424 L368,329" fill="none" stroke="#000" stroke-width="1.3" stroke-linejoin="round"/>
<text transform="translate(83.5,420.6) scale(0.84,1)" font-size="15" fill="#000" stroke="#000" stroke-width="0.25">10</text>
</svg>
</body></html>
